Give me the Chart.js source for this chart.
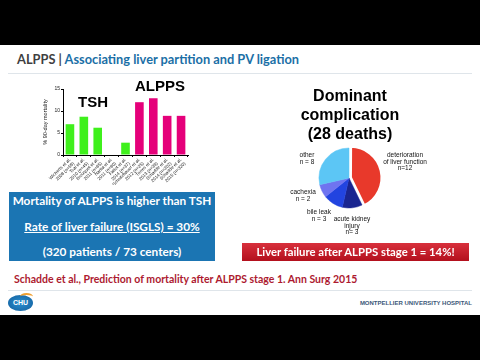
<!DOCTYPE html>
<html><head><meta charset="utf-8">
<script src="https://cdn.jsdelivr.net/npm/chart.js@4"></script>
<style>
html,body{margin:0;padding:0;width:480px;height:360px;background:#000;overflow:hidden;}
#slide{position:absolute;left:0;top:45px;width:480px;height:270px;background:#fff;}
.t{position:absolute;white-space:nowrap;}
.lato{font-family:Lato,"Open Sans",sans-serif;font-weight:700;}
.ar{font-family:"Liberation Sans",Arial,sans-serif;}
.pl{position:absolute;width:80px;text-align:center;font-family:"Liberation Sans",Arial,sans-serif;font-size:6.5px;line-height:6.5px;color:#111;white-space:nowrap;}
</style></head>
<body>
<div id="slide"></div>
<div class="t lato" style="left:17px;top:52px;font-size:12.8px;line-height:14px;"><span style="color:#3f3f3f">ALPPS | </span><span style="color:#1b6fa6">Associating liver partition and PV ligation</span></div>
<div style="position:absolute;left:8px;top:73px;width:464px;height:1px;background:#dfe5ea;"></div>

<div style="position:absolute;left:42px;top:84px;width:148px;height:101px;"><canvas id="bar" width="148" height="101"></canvas></div>
<div class="t ar" style="left:78px;top:94px;font-size:15px;line-height:16px;font-weight:700;color:#000;">TSH</div>
<div class="t ar" style="left:135px;top:78px;font-size:15px;line-height:16px;font-weight:700;color:#000;">ALPPS</div>

<div class="t ar" style="left:280px;width:140px;text-align:center;top:85.5px;font-size:16px;line-height:19px;font-weight:700;color:#000;">Dominant<br>complication<br>(28 deaths)</div>
<div style="position:absolute;left:304px;top:133px;width:90px;height:90px;"><canvas id="pie" width="90" height="90"></canvas></div>
<div class="pl" style="left:267px;top:152px;">other<br>n = 8</div>
<div class="pl" style="left:263px;top:189px;">cachexia<br>n = 2</div>
<div class="pl" style="left:279px;top:209px;">bile leak<br>n = 3</div>
<div class="pl" style="left:312px;top:216px;">acute kidney<br>injury<br>n= 3</div>
<div class="pl" style="left:365px;top:152px;">deterioration<br>of liver function<br>n=12</div>

<div style="position:absolute;left:9px;top:192px;width:206px;height:69px;background:#1b75b3;"></div>
<div class="t lato" style="left:9px;width:206px;text-align:center;top:194px;font-size:11.8px;line-height:14px;color:#fff;">Mortality of ALPPS is higher than TSH</div>
<div class="t lato" style="left:9px;width:206px;text-align:center;top:220px;font-size:11.8px;line-height:14px;color:#fff;text-decoration:underline;">Rate of liver failure (ISGLS) = 30%</div>
<div class="t lato" style="left:9px;width:206px;text-align:center;top:245px;font-size:11.8px;line-height:14px;color:#fff;">(320 patients / 73 centers)</div>

<div style="position:absolute;left:242px;top:243px;width:227px;height:18px;background:linear-gradient(#d8303c,#b3101d);"></div>
<div class="t lato" style="left:242px;width:227px;text-align:center;top:243px;font-size:11.3px;line-height:18px;color:#fff;">Liver failure after ALPPS stage 1 = 14%!</div>

<div class="t lato" style="left:14px;top:272px;font-size:10.5px;line-height:14px;color:#ad1a30;">Schadde et al., Prediction of mortality after ALPPS stage 1. Ann Surg 2015</div>
<div style="position:absolute;left:8px;top:290px;width:464px;height:1px;background:#dfe5ea;"></div>

<div style="position:absolute;left:8px;top:295px;width:25px;height:16px;border-radius:50%;background:radial-gradient(#2a8fd0,#125e9c);"></div>
<div style="position:absolute;left:20px;top:293px;width:13px;height:5px;border-radius:50%;border-top:2px solid #f0a030;"></div>
<div class="t ar" style="left:8px;width:25px;text-align:center;top:298px;font-size:7px;line-height:9px;font-weight:700;color:#fff;">CHU</div>
<div class="t ar" style="left:272px;width:200px;text-align:right;top:299px;font-size:6px;line-height:8px;font-weight:700;color:#3c5878;">MONTPELLIER UNIVERSITY HOSPITAL</div>

<script>
// ---- bar chart data ----
const studyLabels = [
  ["Wicherts et al.","2008 (n=59)"],
  ["Tsai et al.","2010 (n=45)"],
  ["Brouquet et al.","2011 (n=65)"],
  ["Narita et al.","2011 (n=80)"],
  ["Faitot et al.","2014 (n=37)"],
  ["Schnitzbauer et al.","2012 (n=25)"],
  ["Torres et al.","2013 (n=39)"],
  ["Schadde et al.","2014 (n=202)"],
  ["Schadde et al.","2015 (n=320)"]
];
const mortality = [7, 8.7, 6.2, 0, 2.8, 12, 12.9, 8.9, 8.9];
const groups = ["TSH","TSH","TSH","TSH","TSH","ALPPS","ALPPS","ALPPS","ALPPS"];
const yTicks = [0, 5, 10, 15];

// ---- pie chart data ----
const causes = ["deterioration of liver function","acute kidney injury","bile leak","cachexia","other"];
const deaths = [12, 3, 3, 2, 8];

const groupColor = {TSH:"#3ff01c", ALPPS:"#e5007a"};

new Chart(document.getElementById("bar"), {
  type: "bar",
  data: { labels: studyLabels, datasets: [{ data: mortality, backgroundColor: groups.map(g => groupColor[g]), barPercentage: 0.62, categoryPercentage: 1 }] },
  options: {
    responsive: false, animation: false, devicePixelRatio: 1,
    plugins: { legend: { display: false }, tooltip: { enabled: false } },
    layout: { padding: { top: 5, right: 2, left: 0, bottom: 0 } },
    scales: {
      x: {
        grid: { drawOnChartArea: false, tickLength: 2, color: "#000" },
        border: { color: "#000", width: 1 },
        ticks: { font: { size: 4.5, family: "Liberation Sans" }, color: "#222", minRotation: 45, maxRotation: 45, padding: 0, autoSkip: false },
        afterFit: s => { s.height = 30; }
      },
      y: {
        min: 0, max: 15,
        afterBuildTicks: s => { s.ticks = yTicks.map(v => ({ value: v })); },
        ticks: { font: { size: 5, family: "Liberation Sans" }, color: "#222", padding: 1 },
        grid: { drawOnChartArea: false, tickLength: 2, color: "#000" },
        border: { color: "#000", width: 1 },
        title: { display: true, text: "% 90-day mortality", font: { size: 5.5, family: "Liberation Sans" }, color: "#222", padding: 0 },
        afterFit: s => { s.width = 21; }
      }
    }
  }
});

new Chart(document.getElementById("pie"), {
  type: "pie",
  data: { labels: causes, datasets: [{ data: deaths, backgroundColor: ["#e8392b","#1a2590","#2244e0","#6f74f0","#5cc6f5"], borderColor: ["#ffffff","#1a2590","#2244e0","#6f74f0","#5cc6f5"], borderWidth: [2.5,0.5,0.5,0.5,0.5], offset: [7,0,0,0,0], radius: 30 }] },
  options: {
    responsive: false, animation: false, devicePixelRatio: 1,
    plugins: { legend: { display: false }, tooltip: { enabled: false } }
  }
});
</script>
</body></html>
